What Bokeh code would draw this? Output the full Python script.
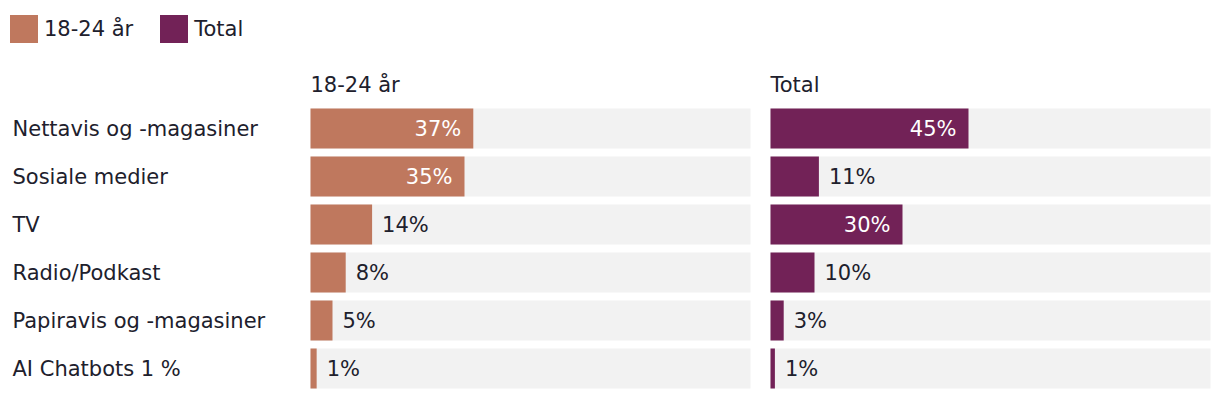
from bokeh.plotting import figure
from bokeh.models import Range1d, ColumnDataSource, Legend, LegendItem
from bokeh.core.properties import value
from bokeh.embed import file_html
from bokeh.resources import INLINE

categories = ["Nettavis og -magasiner", "Sosiale medier", "TV", "Radio/Podkast",
              "Papiravis og -magasiner", "AI Chatbots 1 %"]
young = [37, 35, 14, 8, 5, 1.4]
total = [45, 11, 30, 10, 3, 1]
series_names = ["18-24 år", "Total"]
colors = ["#bf785e", "#722257"]

FONT = "DejaVu Sans"
FS = "21px"
DARK = "#20202c"
W, H = 1212, 390
PX_PER = 4.4          # px per percent
LEFT0 = 310           # px where first panel starts
GAP = 20              # px between panels
ROW = 48              # px row pitch
ROW0 = 128            # px centre of first row from top

x_start = -LEFT0 / PX_PER
x_end = (W - LEFT0) / PX_PER
y_top = -ROW0 / ROW
y_bot = (H - ROW0) / ROW

p = figure(width=W, height=H, x_range=Range1d(x_start, x_end), y_range=Range1d(y_bot, y_top),
           output_backend="svg", toolbar_location=None, min_border=0)
p.axis.visible = False
p.grid.visible = False
p.outline_line_color = None
p.background_fill_color = "white"

rows = list(range(len(categories)))
offsets = [0, 100 + GAP / PX_PER]
bar_h = 40 / ROW

renderers = []
for s, (vals, off, col, name) in enumerate(zip([young, total], offsets, colors, series_names)):
    p.hbar(y=rows, left=off, right=off + 100, height=bar_h, fill_color="#f2f2f2", line_color=None)
    src = ColumnDataSource(dict(y=rows, left=[off] * len(vals), right=[off + v for v in vals]))
    r = p.hbar(y="y", left="left", right="right", height=bar_h, source=src,
               fill_color=col, line_color=None)
    renderers.append(r)
    inside = [v >= 20 for v in vals]
    ins = ColumnDataSource(dict(x=[off + v for v, i in zip(vals, inside) if i],
                                y=[y for y, i in zip(rows, inside) if i],
                                t=[f"{round(v)}%" for v, i in zip(vals, inside) if i]))
    out = ColumnDataSource(dict(x=[off + v for v, i in zip(vals, inside) if not i],
                                y=[y for y, i in zip(rows, inside) if not i],
                                t=[f"{round(v)}%" for v, i in zip(vals, inside) if not i]))
    p.text(x="x", y="y", text="t", source=ins, x_offset=-12, text_align="right",
           text_baseline="middle", text_color="white", text_font=value(FONT),
           text_font_size=value(FS))
    p.text(x="x", y="y", text="t", source=out, x_offset=10, text_align="left",
           text_baseline="middle", text_color=DARK, text_font=value(FONT),
           text_font_size=value(FS))
    # panel title
    p.text(x=[off], y=[y_top + 84 / ROW], text=[name], text_align="left",
           text_baseline="middle", text_color=DARK, text_font=value(FONT),
           text_font_size=value(FS))

# category labels
p.text(x=[x_start] * len(categories), y=rows, text=categories, x_offset=12,
       text_align="left", text_baseline="middle", text_color=DARK,
       text_font=value(FONT), text_font_size=value(FS))

legend = Legend(items=[LegendItem(label=n, renderers=[r]) for n, r in zip(series_names, renderers)],
                location=(6, H - 46), orientation="horizontal",
                glyph_width=35, glyph_height=35, label_standoff=3, spacing=23,
                padding=0, margin=0, border_line_color=None, background_fill_alpha=0,
                label_text_font=FONT, label_text_font_size=FS, label_text_color=DARK,
                label_height=35)
p.add_layout(legend, "center")

open("out.html", "w").write(file_html(p, INLINE))
